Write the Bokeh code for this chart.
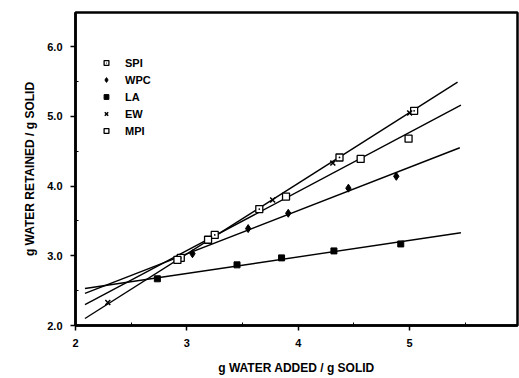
from bokeh.plotting import figure
from bokeh.models import FixedTicker, Legend, LegendItem, Range1d, NumeralTickFormatter
from bokeh.embed import file_html
from bokeh.resources import INLINE

# ---- data ----
spi_x = [2.945, 3.25, 3.65, 4.37, 5.04]
spi_y = [2.97, 3.30, 3.67, 4.41, 5.08]
wpc_x = [3.05, 3.55, 3.91, 4.45, 4.88]
wpc_y = [3.03, 3.39, 3.61, 3.97, 4.14]
la_x = [2.735, 3.45, 3.85, 4.32, 4.92]
la_y = [2.67, 2.87, 2.97, 3.07, 3.17]
ew_x = [2.29, 3.77, 4.31, 5.00]
ew_y = [2.33, 3.80, 4.33, 5.05]
mpi_x = [2.915, 3.19, 3.89, 4.56, 4.99]
mpi_y = [2.94, 3.23, 3.85, 4.39, 4.68]

# fitted lines (end points)
fit_top_x = [2.085, 5.43]     # SPI / EW
fit_top_y = [2.10, 5.49]
fit_mpi_x = [2.085, 5.46]
fit_mpi_y = [2.30, 5.16]
fit_wpc_x = [2.085, 5.45]
fit_wpc_y = [2.46, 4.55]
fit_la_x = [2.085, 5.46]
fit_la_y = [2.53, 3.33]

x_ticks = [2, 3, 4, 5, 6]
x_minor = [2.5, 3.5, 4.5, 5.5]
y_ticks = [2.0, 3.0, 4.0, 5.0, 6.0]
y_minor = [2.5, 3.5, 4.5, 5.5, 6.5]

FONT = "Liberation Sans"

p = figure(width=519, height=378, output_backend="svg", toolbar_location=None,
           x_range=Range1d(2, 5.968), y_range=Range1d(2, 6.49),
           min_border_left=75, min_border_right=2, min_border_top=12, min_border_bottom=53)
p.grid.visible = False
p.outline_line_color = "black"
p.outline_line_width = 2.5
p.background_fill_color = "white"
p.border_fill_color = "white"

for (xs, ys) in [(fit_top_x, fit_top_y), (fit_mpi_x, fit_mpi_y),
                 (fit_wpc_x, fit_wpc_y), (fit_la_x, fit_la_y)]:
    p.line(xs, ys, line_color="black", line_width=1.4)

r_spi = p.scatter(spi_x, spi_y, marker="square_dot", size=7, line_color="black",
                  fill_color="white", line_width=1.3)
r_wpc = p.scatter(wpc_x, wpc_y, marker="diamond", size=8, line_color="black",
                  fill_color="black")
r_la = p.scatter(la_x, la_y, marker="square", size=6, line_color="black",
                 fill_color="black")
r_ew = p.scatter(ew_x, ew_y, marker="x", size=7, line_color="black", line_width=1.5)
r_mpi = p.scatter(mpi_x, mpi_y, marker="square", size=7, line_color="black",
                  fill_color="white", line_width=1.3)

legend = Legend(items=[
    LegendItem(label="SPI", renderers=[r_spi]),
    LegendItem(label="WPC", renderers=[r_wpc]),
    LegendItem(label="LA", renderers=[r_la]),
    LegendItem(label="EW", renderers=[r_ew]),
    LegendItem(label="MPI", renderers=[r_mpi]),
], location=(25, 186))
legend.border_line_color = None
legend.background_fill_alpha = 0
legend.padding = 0
legend.margin = 0
legend.spacing = 0
legend.glyph_width = 12
legend.glyph_height = 17
legend.label_height = 17
legend.label_standoff = 13
legend.label_text_font = FONT
legend.label_text_font_size = "11px"
legend.label_text_font_style = "bold"
legend.label_text_color = "black"
p.add_layout(legend, "center")

p.xaxis.ticker = FixedTicker(ticks=x_ticks, minor_ticks=x_minor)
p.yaxis.ticker = FixedTicker(ticks=y_ticks, minor_ticks=y_minor)
p.yaxis.formatter = NumeralTickFormatter(format="0.0")

for ax in (p.xaxis, p.yaxis):
    ax.axis_line_width = 2.5
    ax.axis_line_color = "black"
    ax.major_tick_line_color = "black"
    ax.major_tick_line_width = 1.5
    ax.major_tick_out = 5
    ax.major_tick_in = 0
    ax.minor_tick_line_color = "black"
    ax.minor_tick_in = 3
    ax.minor_tick_out = 0
    ax.major_label_text_font = FONT
    ax.major_label_text_font_size = "11px"
    ax.major_label_text_font_style = "bold"
    ax.major_label_text_color = "black"
    ax.axis_label_text_font = FONT
    ax.axis_label_text_font_size = "12px"
    ax.axis_label_text_font_style = "bold"
    ax.axis_label_text_color = "black"

p.xaxis.axis_label = "g WATER ADDED / g SOLID"
p.yaxis.axis_label = "g WATER RETAINED / g SOLID"
p.xaxis.major_label_standoff = 8
p.xaxis.axis_label_standoff = 11
p.yaxis.major_label_standoff = 8
p.yaxis.axis_label_standoff = 7

open("out.html", "w").write(file_html(p, INLINE))
